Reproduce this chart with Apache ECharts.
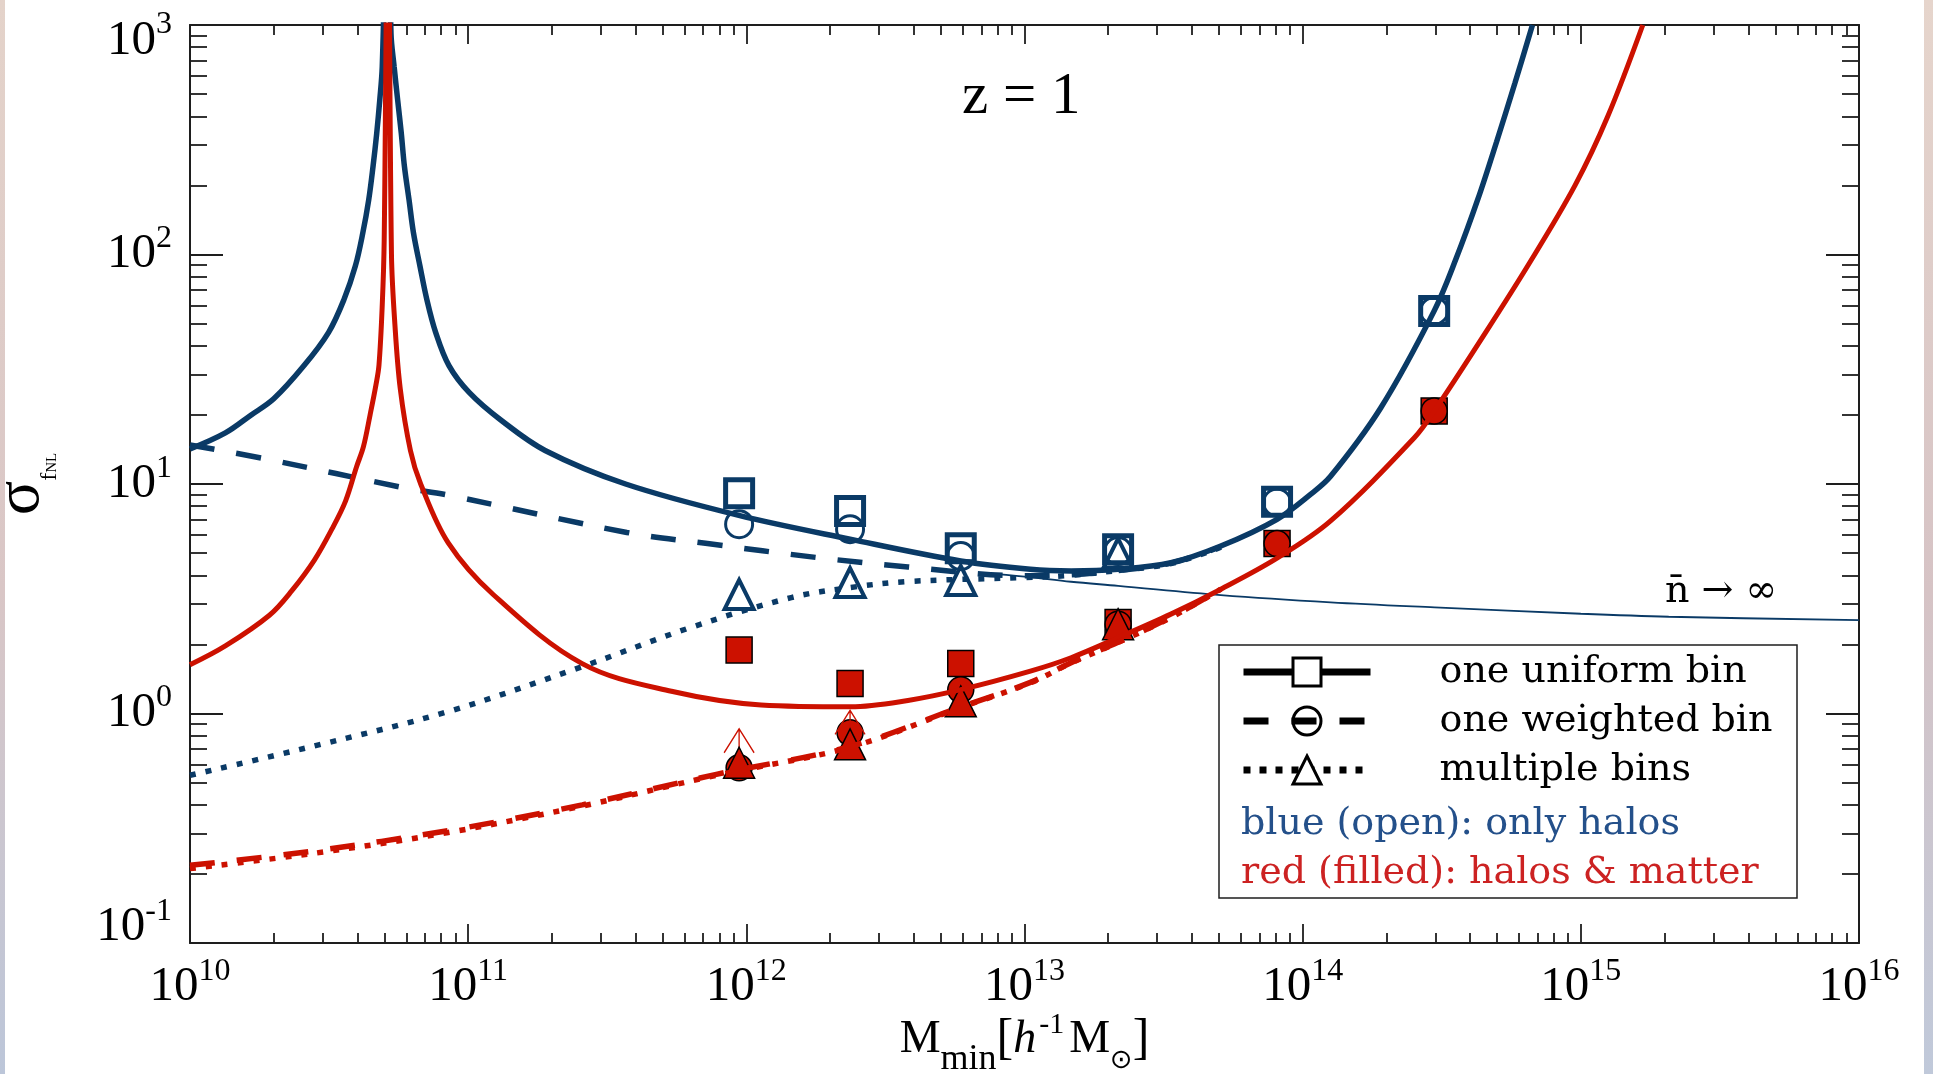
<!DOCTYPE html>
<html>
<head>
<meta charset="utf-8">
<title>sigma fNL vs Mmin, z = 1</title>
<script src="https://cdn.jsdelivr.net/npm/echarts@6/dist/echarts.min.js"></script>
<style>
  html, body { margin: 0; padding: 0; background: #fff; }
  #chart { width: 1933px; height: 1074px; }
  .edge { position: absolute; top: 0; height: 1074px; }
  .edge.left { left: 0; width: 5px; background: linear-gradient(#e4d3ca, #d9c6c6 55%, #bcc6d9); }
  .edge.right { right: 0; width: 9px; background: linear-gradient(#e6d5cc, #d6c3c5 55%, #c0c9da); }
</style>
</head>
<body>
<div id="chart"></div>
<div class="edge left"></div>
<div class="edge right"></div>
<script>
// tick positions
const xMajor = [1e10, 1e11, 1e12, 1e13, 1e14, 1e15, 1e16];
const yMajor = [0.1, 1, 10, 100, 1000];
const xMinor = [];
for (let e = 10; e < 16; e++) for (let m = 2; m <= 9; m++) xMinor.push(m * Math.pow(10, e));
const yMinor = [];
for (let e = -1; e < 3; e++) for (let m = 2; m <= 9; m++) yMinor.push(+(m * Math.pow(10, e)).toPrecision(3));

// forecast curves, [M_min, sigma_fNL]
// blue = halos only
const haloUniform = [
  [1e10, 14.2], [1.34e10, 16.7], [1.65e10, 19.9], [2.0e10, 23.5], [2.57e10, 32.8], [3.15e10, 45.8],
  [3.58e10, 63.8], [3.93e10, 89], [4.18e10, 124], [4.39e10, 173], [4.55e10, 242], [4.69e10, 337],
  [4.81e10, 470], [4.91e10, 656], [5.15e10, 5000], [5.28e10, 915], [5.42e10, 656], [5.58e10, 470],
  [5.75e10, 337], [5.9e10, 242], [6.13e10, 173], [6.36e10, 124], [6.71e10, 89], [7.1e10, 63.8],
  [7.64e10, 45.8], [8.53e10, 32.8], [1.01e11, 25], [1.31e11, 19], [1.89e11, 14], [3.68e11, 10],
  [9.4e11, 7.3], [2.36e12, 5.75], [5.9e12, 4.62], [1.05e13, 4.25], [1.47e13, 4.18], [2.17e13, 4.25],
  [3.36e13, 4.54], [5.08e13, 5.37], [8.09e13, 7.02], [1.07e14, 9.03], [1.26e14, 10.8], [1.91e14, 21.5],
  [2.97e14, 56.8], [3.55e14, 95], [4.27e14, 175], [4.98e14, 310], [5.8e14, 560], [6.7e14, 1000]
];
const haloWeighted = [
  [1e10, 14.8], [1.91e10, 12.8], [5.86e10, 9.64], [8.38e10, 8.97], [3.72e11, 6.15], [7.25e11, 5.5],
  [1.8e12, 4.78], [3.81e12, 4.35], [9.96e12, 3.98], [1.47e13, 4.02], [2.17e13, 4.2], [3.36e13, 4.52],
  [5.08e13, 5.33]
];
const haloMulti = [
  [1e10, 0.538], [2.8e10, 0.722], [8.48e10, 1.02], [2.57e11, 1.6], [6.31e11, 2.37], [1.45e12, 3.2],
  [2.37e12, 3.54], [3.81e12, 3.76], [9.96e12, 3.91], [1.47e13, 4.0], [2.17e13, 4.2], [3.36e13, 4.5],
  [5.08e13, 5.3]
];
const haloNoShot = [
  [7e12, 4.1], [1e13, 3.95], [1.47e13, 3.75], [2.17e13, 3.6], [5.08e13, 3.28], [1.26e14, 3.05],
  [2.98e14, 2.9], [1e15, 2.72], [2.07e15, 2.64], [1e16, 2.55]
];
// red = halos & matter
const matterUniform = [
  [1e10, 1.63], [1.34e10, 1.97], [1.93e10, 2.68], [2.32e10, 3.42], [2.8e10, 4.66], [3.24e10, 6.37],
  [3.62e10, 8.4], [3.97e10, 11.9], [4.2e10, 14.5], [4.44e10, 20], [4.66e10, 27], [4.78e10, 33],
  [4.91e10, 60], [4.99e10, 115], [5.15e10, 5000], [5.3e10, 100], [5.45e10, 50], [5.7e10, 26],
  [6.2e10, 14], [6.75e10, 10], [8.48e10, 5.54], [1.23e11, 3.3], [2.57e11, 1.65], [5.38e11, 1.25],
  [1.13e12, 1.09], [2.37e12, 1.07], [3.81e12, 1.14], [5.9e12, 1.27], [1.05e13, 1.53], [1.47e13, 1.75],
  [2.17e13, 2.14], [3.36e13, 2.71], [5.08e13, 3.48], [8.09e13, 4.75], [1.26e14, 6.9], [2.52e14, 15.9],
  [2.98e14, 20.9], [4.4e14, 43], [6.47e14, 90], [9.53e14, 200], [1.25e15, 400], [1.67e15, 1000]
];
const matterWeighted = [
  [1e10, 0.218], [2.8e10, 0.252], [8.48e10, 0.309], [2.57e11, 0.4], [7.8e11, 0.543], [2.36e12, 0.718],
  [5.9e12, 1.068], [1.05e13, 1.366], [1.47e13, 1.666], [2.17e13, 2.045], [3.36e13, 2.626], [5.08e13, 3.48]
];
const matterMulti = [
  [1e10, 0.211], [2.8e10, 0.246], [8.48e10, 0.303], [2.57e11, 0.395], [7.8e11, 0.538], [2.36e12, 0.713],
  [5.9e12, 1.062], [1.05e13, 1.36], [1.47e13, 1.66], [2.17e13, 2.04], [3.36e13, 2.62], [5.08e13, 3.48]
];

// simulation points
const binMass = [9.42e11, 2.36e12, 5.9e12, 2.17e13, 8.09e13, 2.97e14];
const simHaloUniform = [9.12, 7.63, 5.25, 5.2, 8.36, 56.8];
const simHaloWeighted = [6.68, 6.35, 4.85, 5.1, 8.3, 56.8];
const simHaloMulti = [3.3, 3.72, 3.8, 5.0, null, null];
const simMatterUniform = [1.89, 1.35, 1.65, 2.49, 5.5, 20.8];
const simMatterWeighted = [0.58, 0.825, 1.27, 2.45, 5.5, 20.8];
const simMatterMulti = [0.61, 0.734, 1.13, 2.45, null, null];
const lowerLimit = [1, 1, 0, 0, 0, 0];

const BLUE = '#0a3a66';
const RED = '#cc1100';
const INK = '#1e1e1e';
const SERIF = 'Liberation Serif';

function pts(ys, mask) {
  return binMass.map((m, i) => [m, ys[i]]).filter((p, i) => p[1] != null && (!mask || mask[i]));
}

function curve(name, data, color, width, type) {
  return {
    name: name, type: 'line', data: data, symbol: 'none', showSymbol: false,
    smooth: 0.35, silent: true,
    lineStyle: { color: color, width: width, type: type || 'solid', cap: 'butt' }
  };
}

function marks(name, data, symbol, size, fill, stroke, bw) {
  return {
    name: name, type: 'scatter', data: data, symbol: symbol, symbolSize: size, silent: true,
    itemStyle: { color: fill, borderColor: stroke, borderWidth: bw, opacity: 1 }
  };
}

function legendDummy(name, symbol) {
  return { name: name, type: 'line', data: [], symbol: symbol, lineStyle: { color: '#000' } };
}

function logAxis(dim, pos, ticks, len, extra) {
  const ext = dim === 'x' ? [1e10, 1e16] : [0.1, 1000];
  return Object.assign({
    type: 'log', logBase: 10, min: ext[0], max: ext[1], position: pos, silent: true,
    axisLine: { show: true, onZero: false, lineStyle: { color: INK, width: 2 } },
    axisTick: { show: true, inside: true, length: len, customValues: ticks, lineStyle: { color: INK, width: 1.8 } },
    axisLabel: { show: false },
    splitLine: { show: false },
    minorTick: { show: false },
    minorSplitLine: { show: false }
  }, extra || {});
}

function powLabel(v) {
  const e = Math.round(Math.log10(v));
  const k = e === 3 ? 'T' : (e === -1 ? 'B' : 'M');
  return '{b' + k + '|10}{s' + k + '|' + e + '}';
}

const labelRich = {
  bM: { fontFamily: SERIF, fontSize: 49, color: '#000' },
  sM: { fontFamily: SERIF, fontSize: 32, color: '#000', padding: [0, 0, 31, 0] },
  bT: { fontFamily: SERIF, fontSize: 49, color: '#000', padding: [32, 0, 0, 0] },
  sT: { fontFamily: SERIF, fontSize: 32, color: '#000' },
  bB: { fontFamily: SERIF, fontSize: 49, color: '#000', padding: [0, 0, 32, 0] },
  sB: { fontFamily: SERIF, fontSize: 32, color: '#000', padding: [0, 0, 63, 0] }
};

const chart = echarts.init(document.getElementById('chart'));
chart.setOption({
  animation: false,
  backgroundColor: 'transparent',
  grid: { left: 190, right: 74, top: 25, bottom: 131, containLabel: false, outerBoundsMode: 'none' },
  xAxis: [
    logAxis('x', 'bottom', xMajor, 19, {
      axisLabel: {
        show: true, customValues: xMajor, margin: 13, showMinLabel: true, showMaxLabel: true,
        formatter: powLabel, rich: labelRich
      },
      name: '{M|M}{sub|min}{br|[}{h|h}{sup|-1}{M|M}{sun|\u2299}{br|]}',
      nameLocation: 'middle', nameGap: 59, nameMoveOverlap: false,
      nameTextStyle: {
        rich: {
          M: { fontFamily: SERIF, fontSize: 46, color: '#000' },
          sub: { fontFamily: SERIF, fontSize: 36, color: '#000', padding: [40, 0, 0, 0] },
          br: { fontFamily: SERIF, fontSize: 50, color: '#000' },
          h: { fontFamily: SERIF, fontSize: 46, fontStyle: 'italic', color: '#000', padding: [0, 3, 0, 0] },
          sup: { fontFamily: SERIF, fontSize: 30, color: '#000', padding: [0, 5, 30, 0] },
          sun: { fontFamily: 'DejaVu Sans', fontSize: 27, color: '#000', padding: [42, 0, 0, 0] }
        }
      }
    }),
    logAxis('x', 'bottom', xMinor, 10, { axisLine: { show: false } }),
    logAxis('x', 'top', xMajor, 19),
    logAxis('x', 'top', xMinor, 10, { axisLine: { show: false } })
  ],
  yAxis: [
    logAxis('y', 'left', yMajor, 33, {
      axisLabel: {
        show: true, customValues: yMajor, margin: 18, showMinLabel: true, showMaxLabel: true,
        formatter: powLabel, rich: labelRich
      },
      name: '{sig|\u03c3}{f|f}{nl|NL}',
      nameLocation: 'middle', nameRotate: 90, nameGap: 128, nameMoveOverlap: false,
      nameTextStyle: {
        rich: {
          sig: { fontFamily: SERIF, fontSize: 64, color: '#000' },
          f: { fontFamily: SERIF, fontSize: 24, color: '#000', padding: [57, 0, 0, 0] },
          nl: { fontFamily: SERIF, fontSize: 15, color: '#000', padding: [61, 0, 0, 0] }
        }
      }
    }),
    logAxis('y', 'left', yMinor, 17, { axisLine: { show: false } }),
    logAxis('y', 'right', yMajor, 33),
    logAxis('y', 'right', yMinor, 17, { axisLine: { show: false } })
  ],
  legend: {
    orient: 'vertical', left: 1240, top: 653, padding: 0, itemGap: 11,
    itemWidth: 127, itemHeight: 35, selectedMode: false,
    formatter: function (n) { return '{t|' + n + '}'; },
    textStyle: { rich: { t: { fontFamily: 'DejaVu Serif', fontSize: 38, color: '#000', padding: [0, 0, 0, 64] } } },
    data: [
      { name: 'one uniform bin',
        itemStyle: { color: '#fff', borderColor: '#000', borderWidth: 3 },
        lineStyle: { color: '#000', width: 7, type: 'solid' } },
      { name: 'one weighted bin',
        itemStyle: { color: 'rgba(0,0,0,0)', borderColor: '#000', borderWidth: 3 },
        lineStyle: { color: '#000', width: 7, type: [25, 23] } },
      { name: 'multiple bins',
        itemStyle: { color: '#fff', borderColor: '#000', borderWidth: 3 },
        lineStyle: { color: '#000', width: 7, type: [7, 9] } }
    ]
  },
  graphic: [
    { type: 'rect', z: 1, silent: true, shape: { x: 1219, y: 645, width: 578, height: 253 },
      style: { fill: '#fff', stroke: INK, lineWidth: 1.5 } },
    { type: 'text', z: 10, x: 1241, y: 824, silent: true,
      style: { text: 'blue (open): only halos', font: '38px "DejaVu Serif"', fill: '#24508a', verticalAlign: 'middle', textVerticalAlign: 'middle' } },
    { type: 'text', z: 10, x: 1241, y: 873, silent: true,
      style: { text: 'red (filled): halos & matter', font: '38px "DejaVu Serif"', fill: '#cc2222', verticalAlign: 'middle', textVerticalAlign: 'middle' } },
    { type: 'text', z: 10, x: 962, y: 97, silent: true,
      style: { text: 'z = 1', font: '59px "Liberation Serif"', fill: '#000', verticalAlign: 'middle', textVerticalAlign: 'middle' } },
    { type: 'text', z: 10, x: 1665, y: 592, silent: true,
      style: { text: 'n\u0304 \u2192 \u221e', font: '38px "DejaVu Serif"', fill: '#000', verticalAlign: 'middle', textVerticalAlign: 'middle' } }
  ],
  series: [
    curve('n -> inf', haloNoShot, BLUE, 1.8),
    curve('halos weighted', haloWeighted, BLUE, 5.5, [25, 22]),
    curve('halos uniform', haloUniform, BLUE, 5.5),
    curve('matter uniform', matterUniform, RED, 5),
    curve('matter weighted', matterWeighted, RED, 5.5, [25, 22]),
    curve('matter multi', matterMulti, RED, 5.5, [6, 10]),
    curve('halos multi', haloMulti, BLUE, 5.5, [6, 10]),
    legendDummy('one uniform bin', 'rect'),
    legendDummy('one weighted bin', 'circle'),
    legendDummy('multiple bins', 'triangle'),
    marks('sim halos weighted', pts(simHaloWeighted), 'circle', 27, 'rgba(0,0,0,0)', BLUE, 3),
    marks('sim halos multi', pts(simHaloMulti), 'triangle', 29, 'rgba(0,0,0,0)', BLUE, 4),
    marks('sim halos uniform', pts(simHaloUniform), 'rect', 27, 'rgba(0,0,0,0)', BLUE, 5),
    marks('sim matter uniform', pts(simMatterUniform), 'rect', 26, RED, '#000', 1.5),
    marks('sim matter weighted', pts(simMatterWeighted), 'circle', 26, RED, '#000', 1.5),
    Object.assign(
      marks('lower limit', pts(simMatterMulti, lowerLimit), 'path://M0,24L15,0L30,24M15,0L15,34', [30, 34], 'rgba(0,0,0,0)', RED, 1.4),
      { symbolOffset: [0, -17] }
    ),
    marks('sim matter multi', pts(simMatterMulti), 'triangle', 31, RED, '#000', 1.5)
  ]
});
</script>
</body>
</html>
